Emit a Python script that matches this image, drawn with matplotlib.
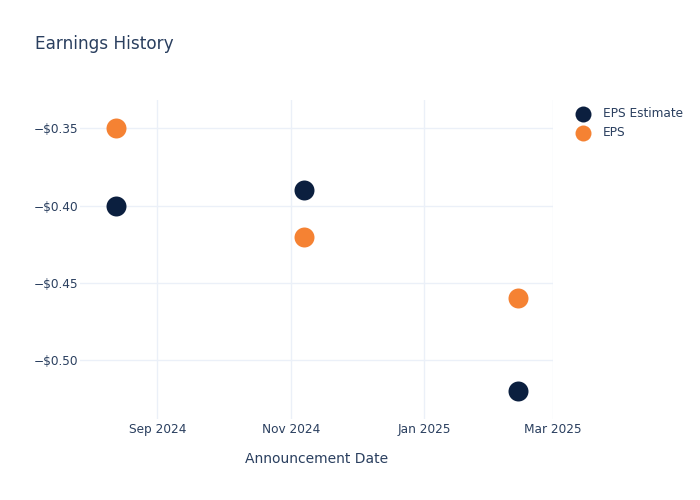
import matplotlib
matplotlib.use('Agg')
import matplotlib.pyplot as plt
import matplotlib.dates as mdates
import matplotlib.ticker as mticker
import datetime as dt

# data
dates = [dt.date(2024, 8, 13), dt.date(2024, 11, 7), dt.date(2025, 2, 13)]
eps_estimate = [-0.40, -0.39, -0.52]
eps_actual = [-0.35, -0.42, -0.46]
xtick_dates = [dt.date(2024, 9, 1), dt.date(2024, 11, 1), dt.date(2025, 1, 1), dt.date(2025, 3, 1)]
ytick_vals = [-0.50, -0.45, -0.40, -0.35]

text_color = '#2a3f5f'
grid_color = '#ebf0f8'
navy = '#0b1f3f'
orange = '#f58233'

plt.rcParams['font.family'] = ['DejaVu Sans']

fig = plt.figure(figsize=(7, 5), dpi=100)
ax = fig.add_axes([0.1143, 0.1614, 0.6757, 0.6386])

ax.scatter(dates, eps_estimate, s=207, color=navy, label='EPS Estimate', zorder=3, linewidths=0)
ax.scatter(dates, eps_actual, s=207, color=orange, label='EPS', zorder=3, linewidths=0)

sep1 = mdates.date2num(dt.date(2024, 9, 1))
ax.set_xlim(sep1 - 35.47, mdates.date2num(dt.date(2025, 3, 1)) + 0.05)
ax.set_ylim(-0.5381, -0.3317)

ax.set_xticks([mdates.date2num(d) for d in xtick_dates])
ax.xaxis.set_major_formatter(mdates.DateFormatter('%b %Y'))
ax.set_yticks(ytick_vals)
ax.yaxis.set_major_formatter(mticker.FuncFormatter(lambda v, p: '\u2212$%.2f' % abs(v)))

ax.grid(True, color=grid_color, linewidth=1)
ax.set_axisbelow(True)
for s in ax.spines.values():
    s.set_visible(False)
ax.tick_params(length=0, labelsize=8.7, labelcolor=text_color)
ax.tick_params(axis='y', pad=1.5)
ax.tick_params(axis='x', pad=3)

ax.set_xlabel('Announcement Date', fontsize=10, color=text_color, labelpad=11)

fig.text(0.05, 0.912, 'Earnings History', fontsize=12.2, color=text_color, va='center')

fig.legend(loc='upper left', bbox_to_anchor=(0.824, 0.786), frameon=False,
           fontsize=8.7, labelcolor=text_color, handlelength=1.0, handletextpad=1.15,
           markerscale=0.8, borderaxespad=0, borderpad=0, labelspacing=0.5)

fig.savefig('out.png', dpi=100)
